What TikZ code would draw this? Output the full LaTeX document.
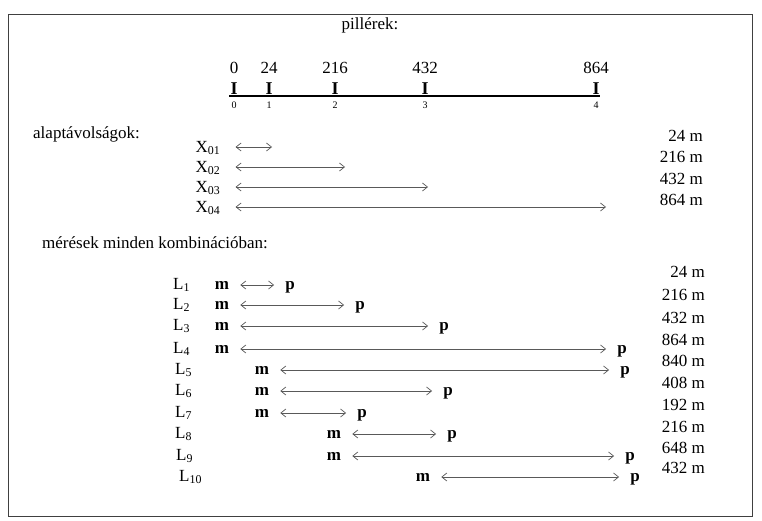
\documentclass[tikz,border=0pt]{standalone}
\usepackage{fontspec}
\setmainfont{Liberation Serif}
\usetikzlibrary{arrows.meta}

\begin{document}
\begin{tikzpicture}[x=1pt,y=-1pt,
    txt/.style={font=\fontsize{17}{19}\selectfont, inner sep=1pt},
    pier/.style={font=\fontsize{18}{20}\selectfont\bfseries, inner sep=0pt, anchor=south},
    idx/.style={font=\fontsize{10}{11}\selectfont, inner sep=1pt, anchor=north},
    mp/.style={font=\fontsize{17}{19}\selectfont\bfseries, inner sep=1pt, text height=8pt, text depth=0pt},
    len/.style={txt, anchor=east},
    dist/.style={draw=black!65, line width=0.7pt,
        {Straight Barb[length=5pt,width=8pt]}-{Straight Barb[length=5pt,width=8pt]},
        shorten <=10pt, shorten >=10pt}]

    \useasboundingbox (0,0) rectangle (762,521);

    % Frame
    \draw[black!75, line width=1pt] (8,15) rectangle (752,516);

    % Piers
    \node[txt] (title) at (370,25) {pillérek:};
    \coordinate (line0) at (229,96);
    \coordinate (line4) at (600,96);
    \draw[line width=1.4pt] (line0) -- (line4);
    \foreach \i/\x/\d in {0/234/0, 1/269/24, 2/335/216, 3/425/432, 4/596/864} {
        \node[pier] (pier\i) at (\x,95) {I};
        \node[txt, anchor=south] (pos\i) at (\x,75) {\d};
        \node[idx] (idx\i) at (\x,101) {\i};
    }

    % Base distances
    \node[txt, anchor=west] (alap) at (32,134) {alaptávolságok:};
    \foreach \i/\y/\e/\d in {1/148/272/24, 2/168/345/216, 3/188/428/432, 4/208/606/864} {
        \node[txt] (x0\i) at (208,\y) {X\textsubscript{0\i}};
        \coordinate (xe\i) at (\e,\y-1);
        \draw[dist, shorten <=14pt, shorten >=0pt] (x0\i.east |- xe\i) -- (xe\i);
    }
    \foreach \i/\y/\d in {1/136/24, 2/157/216, 3/179/432, 4/200/864}
        \node[len] (bl\i) at (704,\y) {\d~m};

    % Measurements
    \node[txt, anchor=west] (meres) at (41,243) {mérések minden kombinációban:};
    \foreach \i/\y/\xl/\xm/\xp in {1/285/172/222/290, 2/305/172/222/360,
            3/326/172/222/444, 4/349/172/222/622, 5/370/174/262/625,
            6/391/174/262/448, 7/413/174/262/362, 8/434/174/334/452,
            9/456/175/334/630, 10/477/178/423/635} {
        \node[txt, anchor=west] (l\i) at (\xl,\y) {L\textsubscript{\i}};
        \node[mp] (m\i) at (\xm,\y) {m};
        \node[mp] (p\i) at (\xp,\y) {p};
        \draw[dist] (m\i) -- (p\i);
    }
    \foreach \i/\y/\d in {1/272/24, 2/295/216, 3/318/432, 4/340/864, 5/361/840,
            6/383/408, 7/405/192, 8/427/216, 9/448/648, 10/468/432}
        \node[len] (ml\i) at (706,\y) {\d~m};
\end{tikzpicture}
\end{document}
